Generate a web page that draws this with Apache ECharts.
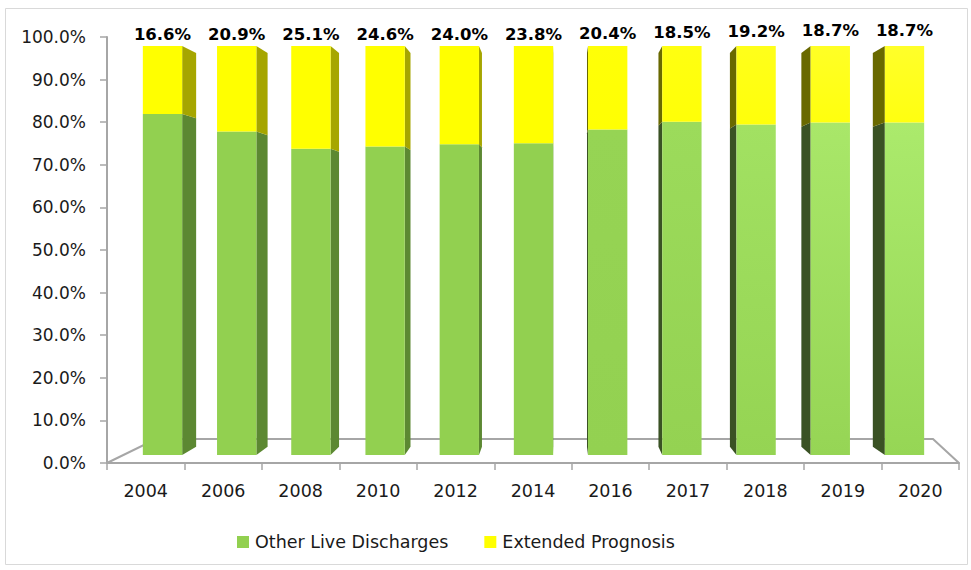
<!DOCTYPE html>
<html><head><meta charset="utf-8">
<script src="https://cdn.jsdelivr.net/npm/echarts@6/dist/echarts.min.js"></script>
<style>html,body{margin:0;padding:0;background:#fff}#c{width:971px;height:570px}</style>
</head><body><div id="c"></div>
<script>
var years = ['2004','2006','2008','2010','2012','2014','2016','2017','2018','2019','2020'];
var extendedPrognosis = [16.6, 20.9, 25.1, 24.6, 24.0, 23.8, 20.4, 18.5, 19.2, 18.7, 18.7];
var otherLiveDischarges = [83.4, 79.1, 74.9, 75.4, 76.0, 76.2, 79.6, 81.5, 80.8, 81.3, 81.3];
var yTicks = [0, 10, 20, 30, 40, 50, 60, 70, 80, 90, 100];

var FONT = 'DejaVu Sans';
var VX = 560, VY = 235, S = 0.963;
function T(x, y) { return [VX + (x - VX) * S, VY + (y - VY) * S]; }
function hex(c){return [parseInt(c.substr(1,2),16),parseInt(c.substr(3,2),16),parseInt(c.substr(5,2),16)];}
function mix(a,b,t){var A=hex(a),B=hex(b);return 'rgb('+A.map(function(v,k){return Math.round(v+(B[k]-v)*t);}).join(',')+')';}

var segColors = {
  green: {front: '#92D050', frontTopR: '#ABEA6C', frontBotR: '#96D655', sideR: '#5C8832', sideL: '#3A5224'},
  yellow: {front: '#FFFF00', frontTopR: '#FFFF2A', frontBotR: '#FFFF10', sideR: '#A6A600', sideL: '#696900'}
};

function makeRender(seg, withLabel) {
  var col = segColors[seg];
  return function (params, api) {
    var i = api.value(0), lo = api.value(1), hi = api.value(2);
    var pLo = api.coord([i, lo]), pHi = api.coord([i, hi]);
    var cx = pLo[0], hw = api.size([1, 0])[0] * 0.265;
    var xl = cx - hw, xr = cx + hw, yLo = pLo[1], yHi = pHi[1];
    var t = Math.max(0, Math.min(1, (cx - VX) / 300));
    var children = [];
    var fill;
    if (t > 0) {
      fill = new echarts.graphic.LinearGradient(0, 0, 0, 1, [
        {offset: 0, color: mix(col.front, col.frontTopR, t)},
        {offset: 1, color: mix(col.front, col.frontBotR, t)}
      ]);
    } else { fill = col.front; }
    if (xr < VX) {
      var a = T(xr, yHi), b = T(xr, yLo);
      children.push({type: 'polygon', shape: {points: [[xr, yHi], a, b, [xr, yLo]]}, style: {fill: col.sideR}});
    } else if (xl > VX) {
      var c = T(xl, yHi), d = T(xl, yLo);
      children.push({type: 'polygon', shape: {points: [[xl, yHi], c, d, [xl, yLo]]}, style: {fill: col.sideL}});
    }
    children.push({type: 'rect', shape: {x: xl, y: yHi, width: xr - xl, height: yLo - yHi}, style: {fill: fill}});
    if (withLabel) {
      children.push({type: 'text', style: {
        text: extendedPrognosis[i].toFixed(1) + '%', x: cx, y: yHi - 3 - 4 * t,
        align: 'center', verticalAlign: 'bottom',
        fontFamily: FONT, fontWeight: 'bold', fontSize: 16.5, fill: '#000'
      }});
    }
    return {type: 'group', children: children};
  };
}

var greenData = years.map(function (y, i) { return [i, 0, otherLiveDischarges[i]]; });
var yellowData = years.map(function (y, i) { return [i, otherLiveDischarges[i], otherLiveDischarges[i] + extendedPrognosis[i]]; });

var chart = echarts.init(document.getElementById('c'), null, {renderer: 'svg'});
var axisGray = '#A6A6A6';
chart.setOption({
  animation: false,
  backgroundColor: '#fff',
  graphic: [
    {type: 'rect', z: 0, shape: {x: 5.5, y: 8.5, width: 962, height: 556}, style: {fill: 'none', stroke: '#D9D9D9', lineWidth: 1}},
    {type: 'polyline', z: 0, shape: {points: [[107, 463], [156, 439], [933, 439], [959, 463]]}, style: {fill: 'none', stroke: axisGray, lineWidth: 2}}
  ],
  legend: {
    data: ['Other Live Discharges', 'Extended Prognosis'],
    left: 237, top: 533, padding: 0,
    itemWidth: 12, itemHeight: 12, itemGap: 36, icon: 'rect',
    textStyle: {fontFamily: FONT, fontSize: 17.5, color: '#1a1a1a', padding: [0, 0, 0, 1]}
  },
  grid: [
    {left: 107, right: 12, top: 37, bottom: 107},
    {left: 125.4, right: 29.4, top: 46, bottom: 115}
  ],
  xAxis: [
    {type: 'category', gridIndex: 0, data: years, boundaryGap: true,
      axisLine: {lineStyle: {color: axisGray, width: 2}},
      axisTick: {show: true, length: 7, interval: 0, lineStyle: {color: axisGray, width: 1.5}},
      axisLabel: {interval: 0, margin: 19, fontFamily: FONT, fontSize: 17.5, color: '#1a1a1a'}},
    {type: 'category', gridIndex: 1, data: years, show: false}
  ],
  yAxis: [
    {type: 'value', gridIndex: 0, min: yTicks[0], max: yTicks[yTicks.length - 1], interval: 10,
      splitLine: {show: false},
      axisLine: {show: true, lineStyle: {color: axisGray, width: 2}},
      axisTick: {show: true, length: 7, lineStyle: {color: axisGray, width: 1.5}},
      axisLabel: {margin: 21, fontFamily: FONT, fontSize: 17, color: '#1a1a1a',
        formatter: function (v) { return v.toFixed(1) + '%'; }}},
    {type: 'value', gridIndex: 1, min: 0, max: 100, show: false}
  ],
  series: [
    {name: 'Other Live Discharges', type: 'custom', xAxisIndex: 1, yAxisIndex: 1,
      itemStyle: {color: '#92D050'}, encode: {x: 0, y: [1, 2]},
      renderItem: makeRender('green', false), data: greenData, z: 3},
    {name: 'Extended Prognosis', type: 'custom', xAxisIndex: 1, yAxisIndex: 1,
      itemStyle: {color: '#FFFF00'}, encode: {x: 0, y: [1, 2]},
      renderItem: makeRender('yellow', true), data: yellowData, z: 3}
  ]
});
</script></body></html>
